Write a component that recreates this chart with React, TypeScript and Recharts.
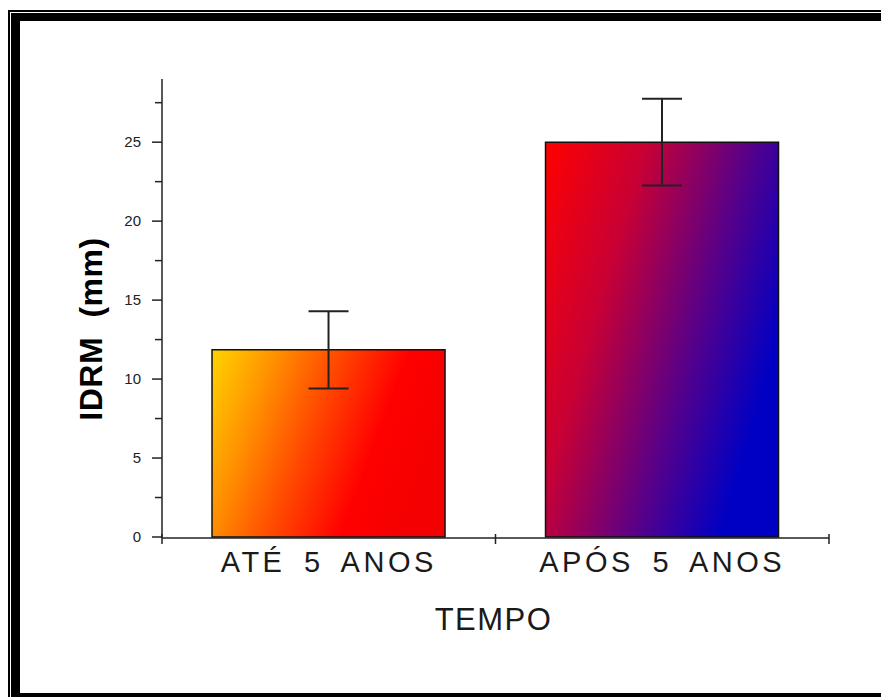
import React from 'react';
import { BarChart, Bar, XAxis, YAxis, ErrorBar, Cell } from 'recharts';

const categories = ['ATÉ 5 ANOS', 'APÓS 5 ANOS'];
const idrmValues = [11.85, 25.0];
const idrmErrors = [2.45, 2.75];
const yTicks = [0, 2.5, 5, 7.5, 10, 12.5, 15, 17.5, 20, 22.5, 25, 27.5];
const edgeTicks = [0, 1, 2];
const gradientIds = ['gradAte', 'gradApos'];

const data = categories.map((name, i) => ({
  name,
  idrm: idrmValues[i],
  err: idrmErrors[i],
  edge: i + 0.5,
}));

const FONT = '"Liberation Sans", Arial, Helvetica, sans-serif';

const YTick = (props: any) => {
  const { x, y, payload } = props;
  const axisX = x + 21;
  const major = payload.value % 5 === 0;
  return (
    <g>
      <line x1={axisX - (major ? 10 : 7)} x2={axisX} y1={y} y2={y} stroke="#222" strokeWidth={1.5} />
      {major && (
        <text x={x} y={y} dy={5} textAnchor="end" fontFamily={FONT} fontSize={15} fill="#222">
          {payload.value}
        </text>
      )}
    </g>
  );
};

const CatTick = (props: any) => {
  const { x, y, payload } = props;
  return (
    <text
      x={x}
      y={y}
      dy={35}
      textAnchor="middle"
      fontFamily={FONT}
      fontSize={29}
      fill="#1a1a1a"
      style={{ letterSpacing: 3.5, wordSpacing: 7 }}
    >
      {payload.value}
    </text>
  );
};

const EdgeTick = (props: any) => {
  const { x, y } = props;
  return <line x1={x} x2={x} y1={y - 10} y2={y} stroke="#222" strokeWidth={1.5} />;
};

const Frame = () => (
  <>
    <div style={{ position: 'absolute', left: 8, top: 10, right: 0, height: 2, background: '#000' }} />
    <div style={{ position: 'absolute', left: 8, top: 10, width: 2, bottom: 0, background: '#000' }} />
    <div style={{ position: 'absolute', left: 11, top: 13, right: 0, height: 8, background: '#000' }} />
    <div style={{ position: 'absolute', left: 11, top: 13, width: 9, bottom: 0, background: '#000' }} />
    <div style={{ position: 'absolute', left: 11, bottom: 0, right: 0, height: 4, background: '#000' }} />
  </>
);

export default function App() {
  return (
    <div style={{ position: 'absolute', left: 0, top: 0, width: 881, height: 697, background: '#fff' }}>
      <Frame />
      <div style={{ position: 'absolute', left: 0, top: 0 }}>
        <BarChart
          width={881}
          height={697}
          data={data}
          margin={{ top: 79, right: 52, bottom: 158, left: 102 }}
          barCategoryGap="15%"
        >
          <defs>
            <linearGradient id="gradAte" x1="0" y1="0" x2="1" y2="0.3">
              <stop offset="0" stopColor="#FFD400" />
              <stop offset="0.25" stopColor="#FF9200" />
              <stop offset="0.5" stopColor="#FF4A00" />
              <stop offset="0.78" stopColor="#FF0000" />
              <stop offset="1" stopColor="#F50000" />
            </linearGradient>
            <linearGradient id="gradApos" x1="0" y1="0" x2="1" y2="0.5">
              <stop offset="0" stopColor="#FF0000" />
              <stop offset="0.35" stopColor="#C80035" />
              <stop offset="0.7" stopColor="#5A0088" />
              <stop offset="1" stopColor="#0000C4" />
            </linearGradient>
          </defs>
          <XAxis
            xAxisId="edge"
            type="number"
            dataKey="edge"
            domain={[0, 2]}
            ticks={edgeTicks}
            height={1}
            tickLine={false}
            tickSize={6}
            tickMargin={0}
            tick={<EdgeTick />}
            axisLine={{ stroke: '#222', strokeWidth: 1.5 }}
          />
          <XAxis
            xAxisId="cat"
            dataKey="name"
            height={1}
            tickLine={false}
            axisLine={false}
            tickSize={0}
            tickMargin={0}
            tick={<CatTick />}
            interval={0}
            label={{
              content: ({ viewBox }: any) => (
                <text
                  x={viewBox.x + viewBox.width / 2 - 2}
                  y={viewBox.y + 93}
                  textAnchor="middle"
                  fontFamily={FONT}
                  fontSize={31}
                  fill="#1a1a1a"
                  style={{ letterSpacing: 1.5 }}
                >
                  TEMPO
                </text>
              ),
            }}
          />
          <YAxis
            width={60}
            domain={[0, 29]}
            ticks={yTicks}
            interval={0}
            tickLine={false}
            tickSize={10}
            tickMargin={11}
            tick={<YTick />}
            axisLine={{ stroke: '#222', strokeWidth: 1.5 }}
            label={{
              content: ({ viewBox }: any) => {
                const cx = viewBox.x + viewBox.width - 72;
                const cy = viewBox.y + viewBox.height / 2 + 21;
                return (
                  <text
                    x={cx}
                    y={cy}
                    transform={`rotate(-90 ${cx} ${cy})`}
                    textAnchor="middle"
                    dy={12}
                    fontFamily={FONT}
                    fontWeight="bold"
                    fontSize={32}
                    fill="#000"
                    style={{ wordSpacing: 10, letterSpacing: 0.5 }}
                  >
                    IDRM (mm)
                  </text>
                );
              },
            }}
          />
          <Bar xAxisId="cat" dataKey="idrm" stroke="#111" strokeWidth={1.5} isAnimationActive={false}>
            {data.map((d, i) => (
              <Cell key={d.name} fill={`url(#${gradientIds[i]})`} />
            ))}
            <ErrorBar dataKey="err" direction="y" width={20} stroke="#222" strokeWidth={2} />
          </Bar>
        </BarChart>
      </div>
    </div>
  );
}
